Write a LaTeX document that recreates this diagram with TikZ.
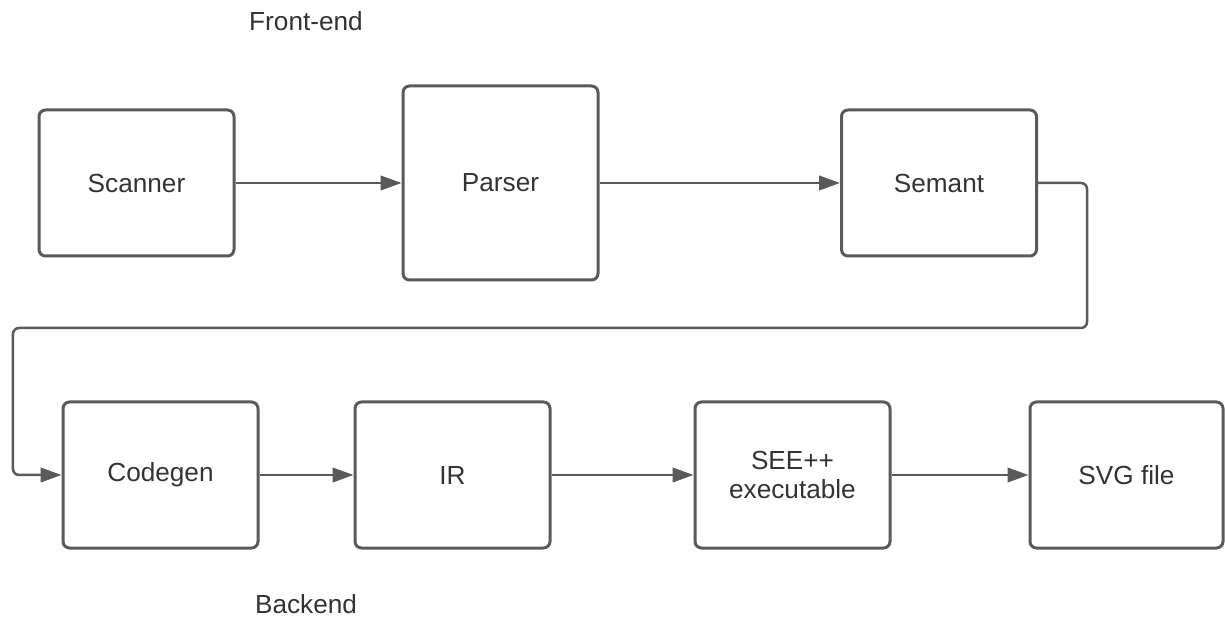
\documentclass[tikz,border=0pt]{standalone}
\usepackage{fontspec}
\setmainfont{Liberation Sans}
\usetikzlibrary{arrows.meta}

\definecolor{linegray}{HTML}{5A5A5A}
\definecolor{textgray}{HTML}{333333}

\begin{document}
\begin{tikzpicture}[
  stage/.style={draw=linegray, line width=0.06cm, rounded corners=0.13cm,
    minimum width=3.9cm, minimum height=2.92cm, align=center,
    text=textgray, font=\fontsize{14.9}{16}\selectfont},
  flow/.style={draw=linegray, line width=0.05cm,
    -{Triangle[length=0.42cm, width=0.29cm]}},
  heading/.style={anchor=base, text=textgray, font=\fontsize{14.9}{16}\selectfont}
]
\useasboundingbox (0,0) rectangle (24.5,12.32);

\node[heading] (front) at (6.12,11.70) {Front-end};
\node[heading] (back) at (6.12,0.06) {Backend};

% front-end stages
\node[stage] (scanner) at (2.73,8.66) {Scanner};
\node[stage, minimum height=3.88cm] (parser) at (10.01,8.66) {Parser};
\node[stage] (semant) at (18.78,8.66) {Semant};

% backend stages
\node[stage] (codegen) at (3.21,2.82) {Codegen};
\node[stage] (ir) at (9.05,2.82) {IR};
\node[stage] (exe) at (15.85,2.82) {SEE++\\executable};
\node[stage, minimum width=3.86cm] (svg) at (22.53,2.82) {SVG file};

\draw[flow] (scanner) -- (parser);
\draw[flow] (parser) -- (semant);
\draw[flow, rounded corners=0.12cm] (semant.east) -- (21.74,8.66) -- (21.74,5.76)
  -- (0.26,5.76) -- (0.26,2.82) -- (codegen.west);
\draw[flow] (codegen) -- (ir);
\draw[flow] (ir) -- (exe);
\draw[flow] (exe) -- (svg);
\end{tikzpicture}
\end{document}
